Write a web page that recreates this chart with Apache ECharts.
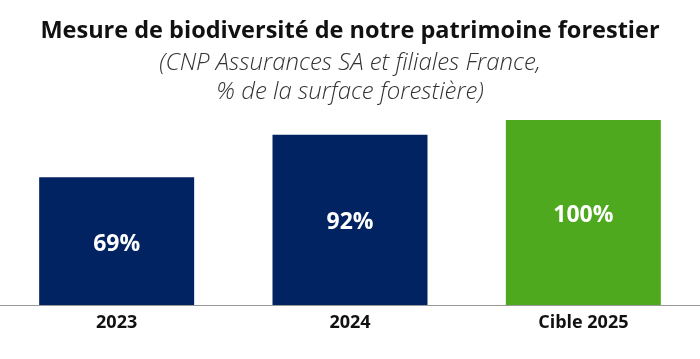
<!DOCTYPE html>
<html><head><meta charset="utf-8">
<script src="https://cdn.jsdelivr.net/npm/echarts@6/dist/echarts.min.js"></script>
<style>html,body{margin:0;padding:0;background:#fff}#c{width:700px;height:359px}</style>
</head><body><div id="c"></div>
<script>
const categories = ['2023', '2024', 'Cible 2025'];
const values = [69, 92, 100];
const labels = ['69%', '92%', '100%'];
const barColors = ['#012361', '#012361', '#4EA91F'];

const chart = echarts.init(document.getElementById('c'));
chart.setOption({
  animation: false,
  title: {
    text: 'Mesure de biodiversité de notre patrimoine forestier',
    subtext: '(CNP Assurances SA et filiales France,\n% de la surface forestière)',
    left: 'center', top: 14, itemGap: 6,
    textStyle: { fontFamily: 'Open Sans', fontWeight: 'bold', fontSize: 23.5, color: '#111' },
    subtextStyle: { fontFamily: 'Open Sans', fontStyle: 'italic', fontWeight: 300, fontSize: 24, color: '#333', lineHeight: 29 }
  },
  grid: { left: -2, right: 0, top: 120, bottom: 54 },
  xAxis: {
    type: 'category', data: categories,
    axisLine: { lineStyle: { color: '#999', width: 1 } },
    axisTick: { show: false },
    axisLabel: { fontFamily: 'Open Sans', fontWeight: 'bold', fontSize: 18, color: '#111', margin: 9 }
  },
  yAxis: { type: 'value', min: 0, max: 100, show: false, splitLine: { show: false } },
  series: [{
    type: 'bar', barWidth: 155,
    data: values.map((v, i) => ({ value: v, itemStyle: { color: barColors[i] } })),
    label: {
      show: true, position: 'inside', offset: [0, 3],
      formatter: p => labels[p.dataIndex],
      fontFamily: 'Open Sans', fontWeight: 'bold', fontSize: 23, color: '#fff'
    }
  }]
});
</script></body></html>
